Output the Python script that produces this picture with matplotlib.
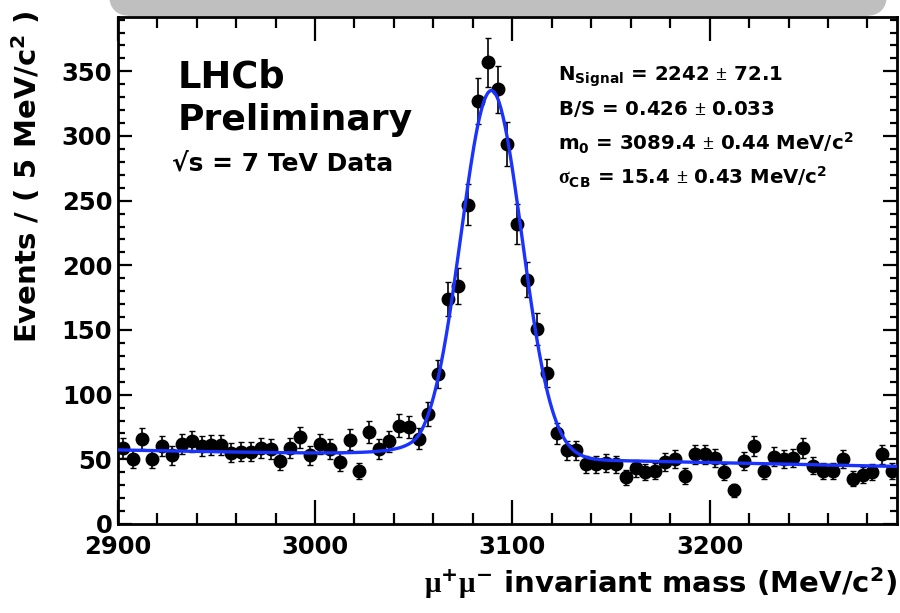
import math
import numpy as np
import matplotlib
matplotlib.use("Agg")
import matplotlib.pyplot as plt
from matplotlib.patches import FancyBboxPatch
from matplotlib.transforms import IdentityTransform
from matplotlib.ticker import MultipleLocator

# binned data: 5 MeV/c^2 bins from 2900 to 3295
BIN_WIDTH = 5.0
mass_lo, mass_hi = 2900.0, 3295.0
counts = [
    59, 50, 66, 50, 60, 53, 62, 64, 60, 61,
    61, 55, 56, 56, 59, 58, 49, 59, 67, 53,
    62, 58, 48, 65, 41, 71, 58, 64, 76, 75,
    66, 85, 116, 174, 184, 247, 327, 357, 336, 294,
    232, 189, 151, 117, 70, 57, 57, 46, 46, 47,
    46, 36, 43, 40, 41, 48, 50, 37, 54, 54,
    51, 40, 26, 49, 60, 41, 52, 50, 51, 59,
    45, 41, 41, 50, 35, 38, 40, 54, 41,
]

# fit result (Crystal Ball signal + linear background)
n_signal = 2242.0
m0 = 3089.4
sigma_cb = 15.4
cb_alpha = 2.3
cb_n = 1.6
bkg_at_lo = 57.0   # events / bin at 2900
bkg_at_hi = 44.5   # events / bin at 3295

fit_text = [
    r"N$_{Signal}$ = 2242 $\mathsf{\pm}$ 72.1",
    r"B/S = 0.426 $\mathsf{\pm}$ 0.033",
    r"m$_{0}$ = 3089.4 $\mathsf{\pm}$ 0.44 MeV/c$^{2}$",
    r"$\mathsf{\sigma}_{CB}$ = 15.4 $\mathsf{\pm}$ 0.43 MeV/c$^{2}$",
]

plt.rcParams["font.family"] = ["DejaVu Sans"]
plt.rcParams["font.weight"] = "bold"
plt.rcParams["mathtext.fontset"] = "custom"
plt.rcParams["mathtext.rm"] = "DejaVu Sans:bold"
plt.rcParams["mathtext.bf"] = "DejaVu Sans:bold"
plt.rcParams["mathtext.it"] = "DejaVu Sans:bold"
plt.rcParams["mathtext.sf"] = "Liberation Serif"
plt.rcParams["mathtext.default"] = "rm"


def crystal_ball(m):
    t = (m - m0) / sigma_cb
    a = abs(cb_alpha)
    A = (cb_n / a) ** cb_n * math.exp(-a * a / 2)
    B = cb_n / a - a
    out = np.where(t > -a, np.exp(-0.5 * t ** 2), A * np.abs(B - t) ** (-cb_n))
    C = cb_n / a / (cb_n - 1) * math.exp(-a * a / 2)
    D = math.sqrt(math.pi / 2) * (1 + math.erf(a / math.sqrt(2)))
    return out / (sigma_cb * (C + D))


centers = np.arange(mass_lo + BIN_WIDTH / 2, mass_hi, BIN_WIDTH)
counts = np.array(counts, dtype=float)
errors = np.sqrt(counts)

mm = np.linspace(mass_lo, mass_hi, 800)
bkg = bkg_at_lo + (bkg_at_hi - bkg_at_lo) * (mm - mass_lo) / (mass_hi - mass_lo)
model = n_signal * BIN_WIDTH * crystal_ball(mm) + bkg

fig = plt.figure(figsize=(9, 6.13), dpi=100)
ax = fig.add_axes([0.1308, 0.1452, 0.8659, 0.8271])

ax.errorbar(centers, counts, yerr=errors, fmt="o", color="black", ms=9,
            elinewidth=1.2, capsize=2, capthick=1.0, zorder=2)
ax.plot(mm, model, color="#1a33ff", lw=2.4, zorder=3)

ax.set_xlim(mass_lo, mass_hi)
ax.set_ylim(0, 392)
ax.xaxis.set_major_locator(MultipleLocator(100))
ax.xaxis.set_minor_locator(MultipleLocator(20))
ax.yaxis.set_major_locator(MultipleLocator(50))
ax.yaxis.set_minor_locator(MultipleLocator(10))
ax.tick_params(axis="both", which="both", direction="in", top=True, right=True,
               width=1.6, labelsize=17.5)
ax.tick_params(axis="x", which="major", length=17, pad=8)
ax.tick_params(axis="x", which="minor", length=8)
ax.tick_params(axis="y", which="major", length=10, pad=4)
ax.tick_params(axis="y", which="minor", length=5)
for s in ax.spines.values():
    s.set_linewidth(2)

ax.set_ylabel(r"Events / ( 5 MeV/c$^{2}$ )", fontsize=21, fontweight="bold")
ax.yaxis.set_label_coords(-0.096, 0.686)
ax.set_xlabel(r"$\mathsf{\mu}^{+}\mathsf{\mu}^{-}$ invariant mass (MeV/c$^{2}$)",
              fontsize=21, fontweight="bold", ha="right")
ax.xaxis.set_label_coords(1.0, -0.082)

fig.text(178 / 900, 1 - 87 / 613, "LHCb", fontsize=26.5, fontweight="bold")
fig.text(178 / 900, 1 - 130 / 613, "Preliminary", fontsize=26, fontweight="bold")
fig.text(172 / 900, 1 - 171 / 613, "\u221as = 7 TeV Data", fontsize=18, fontweight="bold")
for i, line in enumerate(fit_text):
    fig.text(558 / 900, 1 - (81 + 34.5 * i) / 613, line, fontsize=14.2, fontweight="bold")

banner = FancyBboxPatch((109, 613 - 16), 778, 60,
                        boxstyle="round,pad=0,rounding_size=22",
                        transform=IdentityTransform(), facecolor="#bfbfbf",
                        edgecolor="none", zorder=-1)
fig.patches.append(banner)

fig.savefig("out.png", dpi=100)
